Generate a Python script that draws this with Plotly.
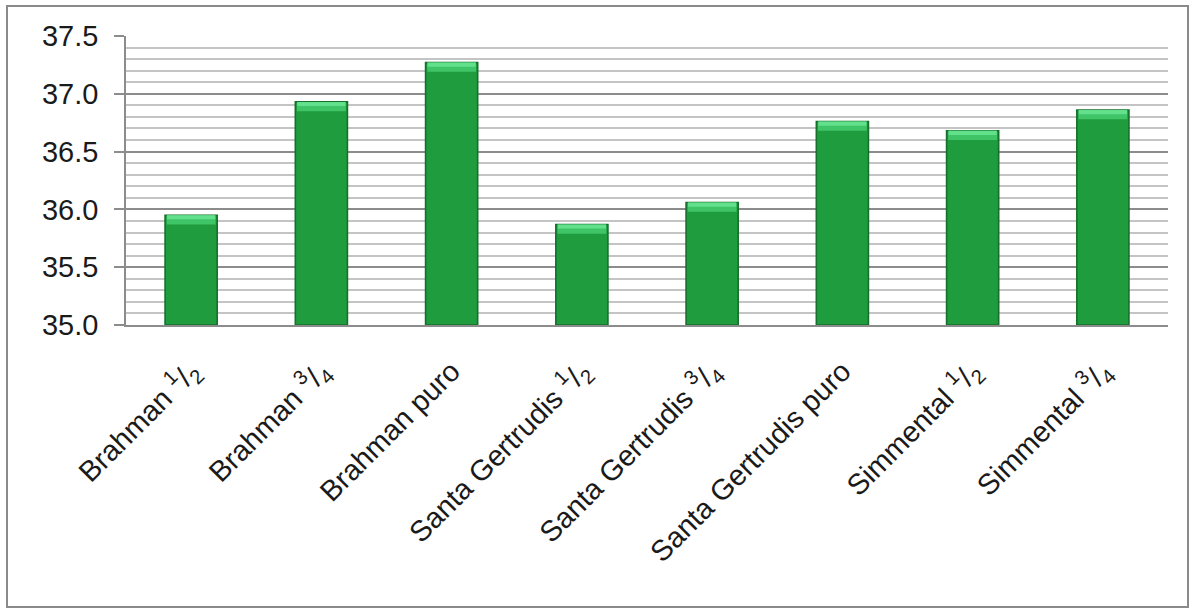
import plotly.graph_objects as go

# Breed groups and their mean values
categories = [
    "Brahman <sup>1</sup>/<sub>2</sub>",
    "Brahman <sup>3</sup>/<sub>4</sub>",
    "Brahman puro",
    "Santa Gertrudis <sup>1</sup>/<sub>2</sub>",
    "Santa Gertrudis <sup>3</sup>/<sub>4</sub>",
    "Santa Gertrudis puro",
    "Simmental <sup>1</sup>/<sub>2</sub>",
    "Simmental <sup>3</sup>/<sub>4</sub>",
]
values = [35.95, 36.93, 37.27, 35.87, 36.06, 36.76, 36.68, 36.86]

y_min, y_max = 35.0, 37.5
y_ticks = [35.0, 35.5, 36.0, 36.5, 37.0, 37.5]

BAR_W = 0.4
BEVEL = 0.08

fig = go.Figure()

# main bar bodies
fig.add_trace(go.Bar(
    x=categories, y=[v - y_min for v in values], base=y_min,
    width=BAR_W,
    marker=dict(color="#1f9c3e", line=dict(color="#166f2b", width=1.6)),
    hoverinfo="skip", showlegend=False,
))
# light bevel along the top of each bar
fig.add_trace(go.Bar(
    x=categories, y=[BEVEL] * len(values), base=[v - BEVEL for v in values],
    width=BAR_W - 0.025,
    marker=dict(color="#3fc467", line=dict(width=0)),
    hoverinfo="skip", showlegend=False,
))
fig.add_trace(go.Bar(
    x=categories, y=[BEVEL * 0.45] * len(values), base=[v - BEVEL * 0.45 for v in values],
    width=BAR_W - 0.03,
    marker=dict(color="#62e08c", line=dict(width=0)),
    hoverinfo="skip", showlegend=False,
))

# plot area in pixels: x 126..1168, y 36..325 of a 1196x609 page
L, R, T, B = 126, 28, 36, 284
W, H = 1196, 609
pw, ph = W - L - R, H - T - B


def px_x(x):
    return (x - L) / pw


def px_y(y):
    return (H - B - y) / ph


# outer frame of the chart
fig.add_shape(type="rect", xref="paper", yref="paper",
              x0=px_x(7), x1=px_x(1188), y0=px_y(607), y1=px_y(6),
              line=dict(color="#8a8a8a", width=2), fillcolor="rgba(0,0,0,0)",
              layer="below")

fig.update_layout(
    width=W, height=H,
    margin=dict(l=L, r=R, t=T, b=B, autoexpand=False),
    paper_bgcolor="white", plot_bgcolor="white",
    barmode="overlay",
    font=dict(family="Liberation Sans, Arial, sans-serif", color="#1a1a1a"),
    xaxis=dict(
        type="category",
        tickangle=-45,
        tickfont=dict(size=29, color="#1a1a1a"),
        showgrid=False,
        showline=True, linecolor="#8c8c8c", linewidth=1.5,
        ticks="", ticklabelstandoff=16,
        range=[-0.5, len(categories) - 0.5],
    ),
    yaxis=dict(
        range=[y_min, y_max],
        tickvals=y_ticks,
        ticktext=[f"{t:.1f}" for t in y_ticks],
        tickfont=dict(size=29, color="#1a1a1a"),
        ticks="outside", ticklen=10, tickcolor="#8c8c8c", tickwidth=1.5,
        ticklabelstandoff=10,
        showline=True, linecolor="#8c8c8c", linewidth=1.5,
        showgrid=True, gridcolor="#8c8c8c", gridwidth=1.5,
        zeroline=False,
        minor=dict(dtick=0.1, showgrid=True, gridcolor="#c4c4c4", gridwidth=1.5, ticks=""),
    ),
    bargap=0.6,
)

fig.write_html("out.html")
